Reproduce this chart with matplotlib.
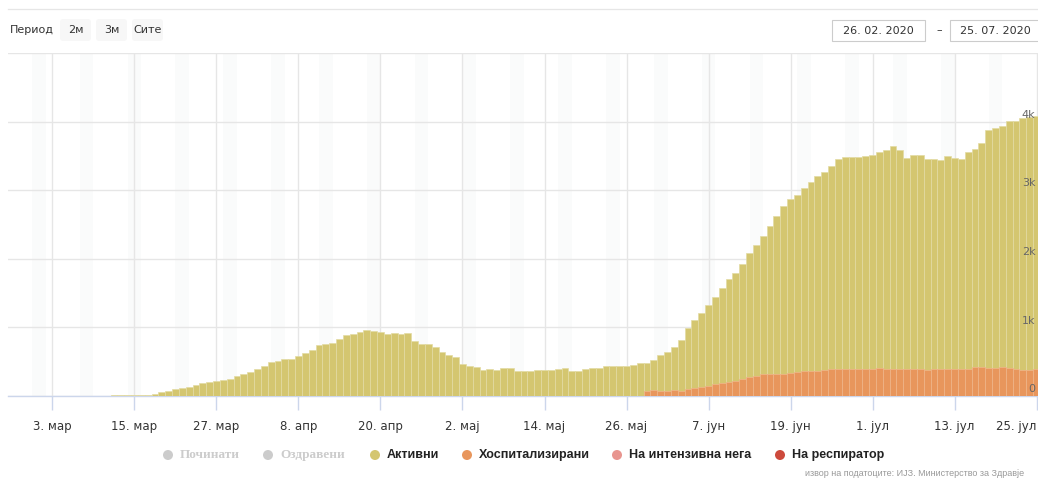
import matplotlib
matplotlib.use('Agg')  # no display in the sandbox
import matplotlib.pyplot as plt
import matplotlib.transforms as mtransforms
from matplotlib.patches import Rectangle, FancyBboxPatch, Circle
import numpy as np
import pandas as pd

# --- data (North Macedonia, daily values) ---
start_date = '2020-02-26'

# active cases, one value per day from 26 Feb to 25 Jul
active_feb = [1, 1, 1, 1]
active_mar = [1, 1, 1, 2, 2, 2, 3, 3, 3, 7, 7, 9, 14, 14, 14,
              15, 15, 30, 58, 78, 100, 120, 130, 160, 195, 210, 225, 233, 248, 292, 320]
active_apr = [350, 390, 432, 495, 510, 535, 535, 578, 622, 666,
              744, 753, 768, 826, 894, 909, 933, 962, 953, 938,
              909, 923, 904, 923, 807, 763, 753, 719, 637, 593]
active_may = [564, 467, 433, 418, 374, 389, 374, 403, 403, 360,
              360, 360, 374, 374, 374, 389, 403, 360, 360, 389,
              403, 403, 433, 433, 433, 433, 447, 476, 476, 520, 593]
active_jun = [637, 719, 821, 996, 1108, 1210, 1327, 1450, 1580, 1700,
              1800, 1920, 2080, 2200, 2330, 2480, 2620, 2770, 2870, 2930,
              3030, 3120, 3200, 3270, 3360, 3450, 3480, 3480, 3480, 3500]
active_jul = [3510, 3550, 3580, 3640, 3580, 3470, 3520, 3520, 3460, 3460, 3440, 3500,
              3474, 3460, 3557, 3597, 3685, 3876, 3900, 3935, 4013, 4013, 4052, 4071, 4085]

# hospitalised, reported from 29 May
hosp_start = '2020-05-29'
hosp_may = [73, 87, 73]
hosp_jun = [73, 87, 73, 102, 117, 126, 146, 170, 185, 199,
            219, 243, 272, 292, 316, 316, 316, 326, 340, 355,
            360, 370, 365, 385, 395, 400, 390, 395, 400, 400]
hosp_jul = [395, 405, 400, 400, 395, 390, 395, 400, 385, 390, 395, 400,
            390, 390, 390, 419, 419, 404, 404, 419, 404, 390, 380, 380, 390]

tick_dates = ['2020-03-03', '2020-03-15', '2020-03-27', '2020-04-08', '2020-04-20',
              '2020-05-02', '2020-05-14', '2020-05-26', '2020-06-07', '2020-06-19',
              '2020-07-01', '2020-07-13', '2020-07-25']
tick_labels = ['3. мар', '15. мар', '27. мар', '8. апр', '20. апр', '2. мај', '14. мај',
               '26. мај', '7. јун', '19. јун', '1. јул', '13. јул', '25. јул']

y_ticks = [0, 1000, 2000, 3000, 4000, 5000]
y_labels = ['0', '1k', '2k', '3k', '4k', '']

legend_labels = ['Починати', 'Оздравени', 'Активни', 'Хоспитализирани',
                 'На интензивна нега', 'На респиратор']
legend_colors = ['#cccccc', '#cccccc', '#d4c670', '#e8965c', '#e8958f', '#cd4a3c']
legend_hidden = [True, True, False, False, False, False]

OLIVE = '#d4c670'
ORANGE = '#e8965c'

active = active_feb + active_mar + active_apr + active_may + active_jun + active_jul
hospitalized = hosp_may + hosp_jun + hosp_jul

t0 = pd.Timestamp(start_date)
dates = pd.date_range(t0, periods=len(active), freq='D')
x = np.arange(len(active))
hx = (pd.Timestamp(hosp_start) - t0).days + np.arange(len(hospitalized))
tick_pos = [(pd.Timestamp(d) - t0).days for d in tick_dates]

W, H = 1038, 479
fig = plt.figure(figsize=(W / 100, H / 100), dpi=100)
ax = fig.add_axes([8 / W, 83 / H, 1032 / W, 343 / H])

# weekend bands
for i, d in enumerate(dates):
    if d.weekday() == 5:
        ax.axvspan(i, i + 2, color='#fafbfb', lw=0, zorder=0)

ax.bar(x, active, width=1.0, color=OLIVE, edgecolor='#e3dba3', linewidth=0.5, zorder=3)
ax.bar(hx, hospitalized, width=1.0, color=ORANGE, edgecolor='#f0b68c', linewidth=0.5, zorder=4)

ax.set_xlim(-0.5, 150.5)
ax.set_ylim(0, 5000)
ax.set_yticks(y_ticks)
ax.tick_params(axis='y', left=False, labelleft=False)
ax.set_xticks(tick_pos, tick_labels)
ax.tick_params(axis='x', length=10, width=1, color='#ccd6eb', labelsize=8.5,
               labelcolor='#333333', pad=7.5)
ax.get_xticklabels()[-1].set_ha('right')
ax.grid(color='#e6e6e6', linewidth=1)
ax.set_axisbelow(True)
for s in ['top', 'left', 'right']:
    ax.spines[s].set_visible(False)
ax.spines['bottom'].set_color('#ccd6eb')
ax.spines['bottom'].set_linewidth(1)
ax.set_facecolor('none')

trans = mtransforms.blended_transform_factory(ax.transAxes, ax.transData)
for v, lab in zip(y_ticks, y_labels):
    ax.text(0.9955, v + 100, lab, transform=trans, ha='right', va='center',
            fontsize=8, color='#666666', zorder=6)

# overlay in pixel coordinates for the controls, legend and source note
ov = fig.add_axes([0, 0, 1, 1])
ov.set_xlim(0, W)
ov.set_ylim(H, 0)
ov.axis('off')

ov.plot([8, W], [8.5, 8.5], color='#e6e6e6', lw=0.9)
ov.text(10, 30, 'Период', fontsize=8, color='#333333', va='center', ha='left')
for bx, lab in [(60, '2м'), (96, '3м'), (132, 'Сите')]:
    ov.add_patch(FancyBboxPatch((bx, 19), 31, 22, boxstyle='round,pad=0,rounding_size=3',
                                fc='#f7f7f7', ec='none'))
    ov.text(bx + 15.5, 30, lab, fontsize=8, color='#333333', va='center', ha='center')

ov.add_patch(Rectangle((831.5, 19.5), 93, 21, fc='white', ec='#cccccc', lw=0.8))
ov.add_patch(Rectangle((949.5, 19.5), 93, 21, fc='white', ec='#cccccc', lw=0.8))
ov.text(878, 30.5, '26. 02. 2020', fontsize=8, color='#333333', ha='center', va='center')
ov.text(939, 30.5, '–', fontsize=8, color='#333333', ha='center', va='center')
ov.text(995, 30.5, '25. 07. 2020', fontsize=8, color='#333333', ha='center', va='center')

dot_x = [168, 268, 375, 467, 617, 780]
for dx, lab, col, hidden in zip(dot_x, legend_labels, legend_colors, legend_hidden):
    ov.add_patch(Circle((dx, 455), 5, fc=col, ec='none'))
    if hidden:
        ov.text(dx + 12, 455, lab, fontsize=9.5, color='#cccccc', va='center', ha='left',
                family='Liberation Serif', fontweight='bold')
    else:
        ov.text(dx + 12, 455, lab, fontsize=9, color='#222222', va='center', ha='left',
                family='Liberation Sans', fontweight='bold')

ov.text(805, 474, 'извор на податоците: ИЈЗ. Министерство за Здравје', fontsize=6.5,
        color='#999999', va='center', ha='left', family='Liberation Sans')

fig.savefig('out.png', dpi=100)
plt.close(fig)
